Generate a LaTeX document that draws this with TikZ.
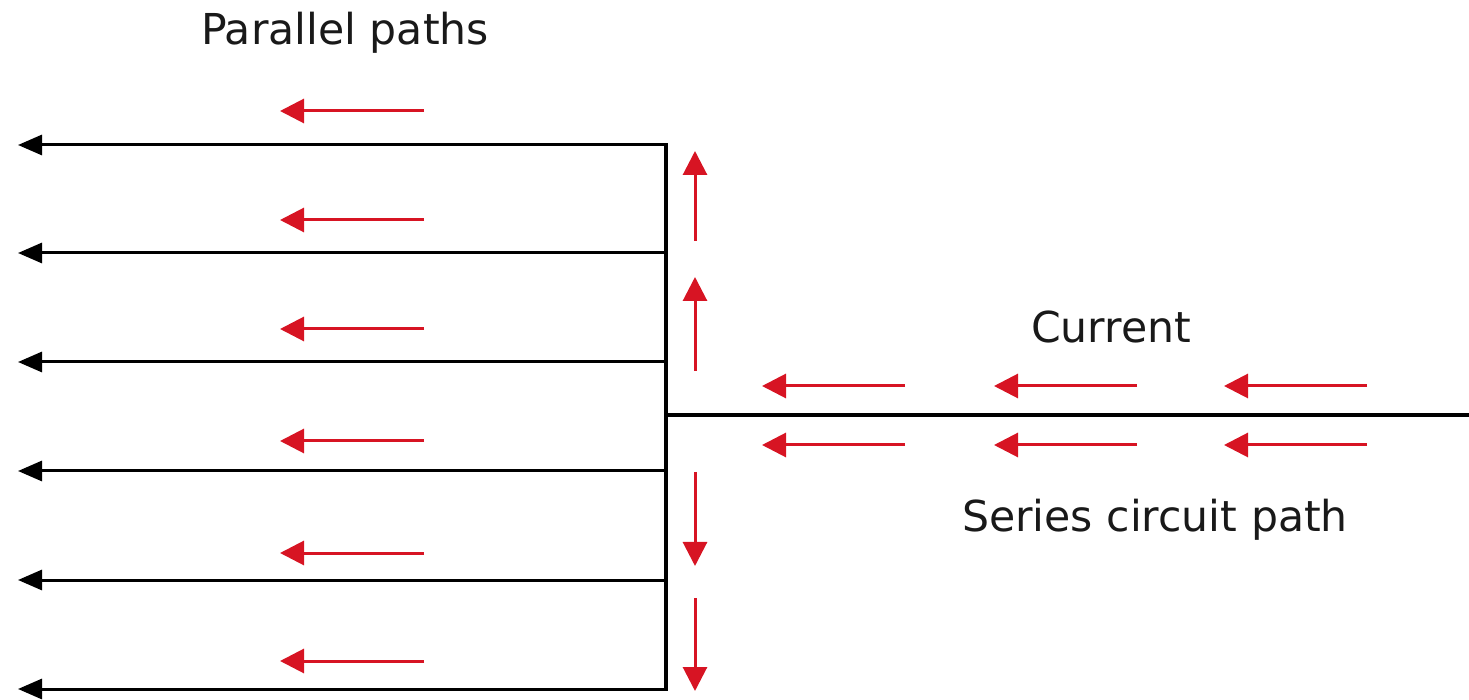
\documentclass[tikz,border=0pt]{standalone}
\usepackage{fontspec}
\setmainfont{DejaVu Sans}
\usetikzlibrary{arrows.meta}
\definecolor{curred}{RGB}{215,20,35}
\tikzset{
  wire/.style={line width=1.5pt, black, -{Triangle[length=12pt,width=10pt]}},
  plainwire/.style={line width=1.6pt, black, line cap=rect},
  flow/.style={line width=1.5pt, curred, -{Triangle[length=12pt,width=12pt]}},
  lbl/.style={font=\fontsize{21.3}{25}\selectfont, text=black!90, inner sep=0pt}
}
\begin{document}
\begin{tikzpicture}[x=0.5pt,y=-0.5pt]
\useasboundingbox (0,0) rectangle (1469,700);
% junction trunk
\coordinate (t1) at (666,145);
\coordinate (t6) at (666,689);
\coordinate (j) at (666,415);
\coordinate (s) at (1469,415);
\draw[plainwire] (t1) -- (t6);
\draw[plainwire] (j) -- (s);
% parallel branches
\foreach \i/\y in {1/145,2/253,3/362,4/471,5/580,6/689}{
  \coordinate (b\i) at (666,\y);
  \coordinate (e\i) at (18,\y);
  \draw[wire] (b\i) -- (e\i);
}
% red arrows on branches
\foreach \i/\y in {1/111,2/220,3/329,4/441,5/553,6/661}{
  \coordinate (ra\i) at (424,\y);
  \coordinate (rb\i) at (280,\y);
  \draw[flow] (ra\i) -- (rb\i);
}
% vertical red arrows
\coordinate (u1a) at (695,241); \coordinate (u1b) at (695,151);
\coordinate (u2a) at (695,371); \coordinate (u2b) at (695,277);
\coordinate (d1a) at (695,472); \coordinate (d1b) at (695,566);
\coordinate (d2a) at (695,598); \coordinate (d2b) at (695,691);
\draw[flow] (u1a) -- (u1b);
\draw[flow] (u2a) -- (u2b);
\draw[flow] (d1a) -- (d1b);
\draw[flow] (d2a) -- (d2b);
% series red arrows
\foreach \k/\xa/\xb in {1/905/762,2/1137/994,3/1367/1224}{
  \coordinate (sa\k) at (\xa,386); \coordinate (sb\k) at (\xb,386);
  \coordinate (sc\k) at (\xa,445); \coordinate (sd\k) at (\xb,445);
  \draw[flow] (sa\k) -- (sb\k);
  \draw[flow] (sc\k) -- (sd\k);
}
% labels
\node[lbl] (pp) at (345,33) {Parallel paths};
\node[lbl] (cur) at (1111,327) {Current};
\node[lbl] (scp) at (1155,520) {Series circuit path};
\end{tikzpicture}
\end{document}
